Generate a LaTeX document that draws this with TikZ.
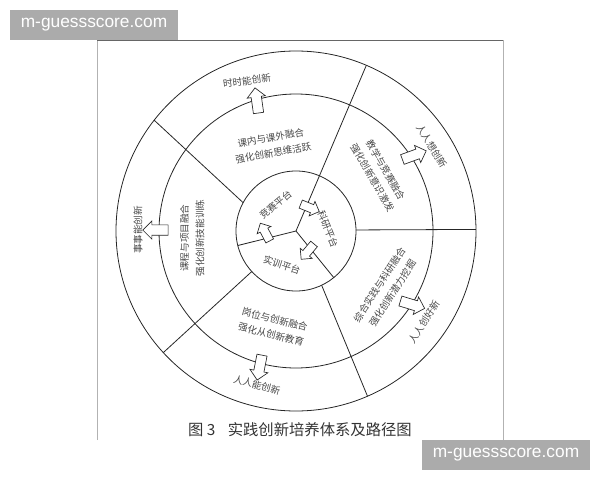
\documentclass[tikz,border=0pt]{standalone}
\usepackage{fontspec}
\setmainfont{Noto Sans CJK SC}
\newfontfamily\wmfont{Liberation Sans}
\usetikzlibrary{shapes.arrows}

\begin{document}
\begin{tikzpicture}[x=0.75pt,y=0.75pt,
        every node/.style={text=black!72,inner sep=1pt,
            font=\fontsize{7.2}{11.5}\selectfont},
        ring/.style={line width=0.6pt,black!85},
        blockarrow/.style={single arrow,draw=black!85,fill=white,
            line width=0.5pt,inner sep=3.6pt,
            single arrow head extend=3pt,minimum height=19pt},
        smallarrow/.style={blockarrow,inner sep=3pt,
            single arrow head extend=2.6pt,minimum height=15pt}
    ]
    \useasboundingbox (0,0) rectangle (600,480);
    %
    \draw[black!30,line width=0.5pt] (97,40) -- (97,440);
    \draw[black!30,line width=0.5pt] (503,10) -- (503,440);
    \draw[black!60,line width=0.6pt] (97,440) -- (503,440);%frame
    %
    \begin{scope}[shift={(296,249)}]
        \draw[ring] (0,0) circle (180);
        \draw[ring] (0,0) circle (137);
        \draw[ring] (0,0) circle (60);
        % platform borders
        \draw[ring] (0,0) -- (67:180);
        \draw[ring] (0,0) -- (194:60);
        \draw[ring] (0,0) -- (-51:60);
        % sector borders
        \draw[ring] (151.8:60) -- (142:180);
        \draw[ring] (1:60) -- (0.5:180);
        \draw[ring] (222.5:60) -- (222.5:180);
        \draw[ring] (-64.7:60) -- (-66.6:180);
        %
        \draw (106.9:133.8) node[blockarrow,rotate=98] (AUp) {};
        \draw (32.9:138) node[blockarrow,rotate=20] (AUpRight) {};
        \draw (-32.6:135.4) node[blockarrow,rotate=-17] (ADownRight) {};
        \draw (-105:138.8) node[blockarrow,rotate=-101] (ADown) {};
        \draw (179.6:138) node[blockarrow,rotate=180] (ALeft) {};
        %
        \draw (63.4:26.8) node[smallarrow,rotate=-22] (AKeyan) {};
        \draw (185.7:30.1) node[smallarrow,rotate=118] (AJingsai) {};
        \draw (-55.6:23) node[smallarrow,rotate=-130] (AShixun) {};
        %
        \draw (127.6:33.5) node[rotate=40] (Jingsai) {竞赛平台};
        \draw (3.6:32) node[rotate=-68] (Keyan) {科研平台};
        \draw (-112.4:36.8) node[rotate=-18] (Shixun) {实训平台};
        %
        \draw (105.6:89) node[rotate=10,align=center] (KeNei)
            {课内与课外融合\\强化创新思维活跃};
        \draw (34.5:100.7) node[rotate=-60,align=center] (JiaoXue)
            {教学与竞赛融合\\强化创新意识激发};
        \draw (-32.8:107) node[rotate=57,align=center] (ZongHe)
            {综合实践与科研融合\\强化创新潜力挖掘};
        \draw (-103.5:98.7) node[rotate=-14,align=center] (GangWei)
            {岗位与创新融合\\强化从创新教育};
        \draw (183.9:104) node[rotate=90,align=center] (KeCheng)
            {课程与项目融合\\强化创新技能训练};
        %
        \draw (108.1:157.8) node[rotate=8] (Shishi) {时时能创新};
        \draw (32:160) node[rotate=-58] (Xiang) {人人想创新};
        \draw (-35.4:157) node[rotate=57] (Chuang) {人人创好新};
        \draw (-104.2:159) node[rotate=-15] (Neng) {人人能创新};
        \draw (179.6:158) node[rotate=90] (Shishi2) {事事能创新};
    \end{scope}
    %
    \draw (300,50) node[text=black!80,font=\fontsize{11.5}{14}\selectfont]
        (Caption) {图 3\hspace{0.8em}实践创新培养体系及路径图};
    %
    \fill[black!33] (10,440) rectangle (178,470);
    \fill[black!33] (422,10) rectangle (590,40);
    \draw (94,455) node[text=white,font=\wmfont\fontsize{13}{15}\selectfont]
        (MarkTop) {m-guessscore.com};
    \draw (506,25) node[text=white,font=\wmfont\fontsize{13}{15}\selectfont]
        (MarkBottom) {m-guessscore.com};
\end{tikzpicture}
\end{document}
